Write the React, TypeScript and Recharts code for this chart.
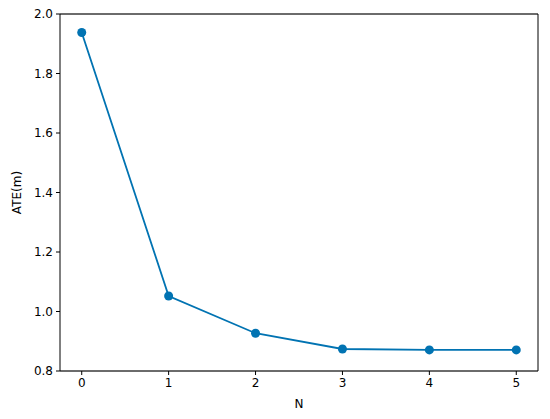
import React from "react";
import { LineChart, Line, XAxis, YAxis, CartesianGrid, Label, ReferenceLine } from "recharts";

const nValues = [0, 1, 2, 3, 4, 5];
const ateValues = [1.938, 1.052, 0.927, 0.874, 0.871, 0.871];
const xTicks = [0, 1, 2, 3, 4, 5];
const yTicks = [0.8, 1.0, 1.2, 1.4, 1.6, 1.8, 2.0];

const data = nValues.map((n, i) => ({ n, ate: ateValues[i] }));

const FONT = "DejaVu Sans, sans-serif";
const tickStyle = { fontSize: 12, fill: "#000", fontFamily: FONT };

export default function App() {
  return (
    <div style={{ position: "absolute", left: 0, top: 0, width: 550, height: 419, background: "#fff" }}>
      <LineChart width={550} height={419} data={data} margin={{ top: 14, right: 12, bottom: 0, left: 0 }}>
        <CartesianGrid horizontal={true} vertical={false} stroke="#b0b0b0" strokeWidth={1} />
        <XAxis
          xAxisId="b"
          dataKey="n"
          type="number"
          domain={[-0.25, 5.25]}
          ticks={xTicks}
          height={48}
          tickSize={4}
          tickMargin={3}
          tick={tickStyle}
          axisLine={{ stroke: "#000", strokeWidth: 1 }}
          tickLine={{ stroke: "#000" }}
          allowDataOverflow
        >
          <Label value="N" position="insideBottom" offset={11} style={{ fontSize: 12, fill: "#000", fontFamily: FONT }} />
        </XAxis>
        <YAxis
          yAxisId="l"
          type="number"
          domain={[0.8, 2.0]}
          ticks={yTicks}
          width={60}
          tickSize={4}
          tickMargin={3}
          tick={tickStyle}
          tickFormatter={(v: number) => v.toFixed(1)}
          axisLine={{ stroke: "#000", strokeWidth: 1 }}
          tickLine={{ stroke: "#000" }}
          allowDataOverflow
        >
          <Label value="ATE(m)" angle={-90} position="insideLeft" offset={17} style={{ fontSize: 12, fill: "#000", fontFamily: FONT, textAnchor: "middle" }} />
        </YAxis>
        <ReferenceLine xAxisId="b" yAxisId="l" y={2.0} stroke="#000" strokeWidth={1} ifOverflow="extendDomain" />
        <ReferenceLine xAxisId="b" yAxisId="l" x={5.25} stroke="#000" strokeWidth={1} ifOverflow="extendDomain" />
        <Line
          xAxisId="b"
          yAxisId="l"
          dataKey="ate"
          stroke="#0173b2"
          strokeWidth={1.8}
          dot={{ r: 4.5, fill: "#0173b2", stroke: "#0173b2", strokeWidth: 0 }}
          activeDot={false}
          isAnimationActive={false}
        />
      </LineChart>
    </div>
  );
}
